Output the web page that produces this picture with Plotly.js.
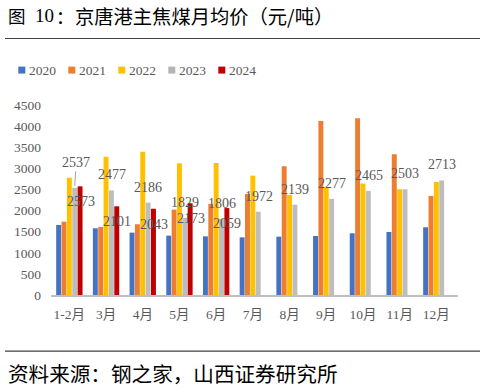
<!DOCTYPE html>
<html>
<head>
<meta charset="utf-8">
<script src="https://cdn.plot.ly/plotly-3.0.1.min.js"></script>
<style>html,body{margin:0;padding:0;background:#fff;}#chart{width:485px;height:392px;}</style>
</head>
<body>
<div id="chart"></div>
<script>
// ---- data ----
var categories = ['1-2月','3月','4月','5月','6月','7月','8月','9月','10月','11月','12月'];
var seriesNames = ['2020','2021','2022','2023','2024'];
var v2020 = [1659, 1580, 1477, 1406, 1389, 1365, 1382, 1398, 1462, 1493, 1604];
var v2021 = [1737, 1612, 1676, 2022, 2157, 2394, 3050, 4124, 4188, 3334, 2346];
var v2022 = [2778, 3275, 3394, 3119, 3128, 2828, 2370, 2543, 2638, 2505, 2678];
var v2023 = [2537, 2477, 2186, 1829, 1806, 1972, 2139, 2277, 2465, 2503, 2713];
var v2024 = [2573, 2101, 2043, 2173, 2059, null, null, null, null, null, null];
var yTicks = [0, 500, 1000, 1500, 2000, 2500, 3000, 3500, 4000, 4500];
var titleParts = ['图', '10', '：', '京唐港主焦煤月均价（元/吨）'];
var sourceText = '资料来源：钢之家，山西证券研究所';

// ---- style ----
var colors = ['#4472C4', '#ED7D31', '#FFC000', '#BDBDBD', '#C00000'];
var legendColors = ['#4472C4', '#ED7D31', '#FFC000', '#B4B4B4', '#C00000'];
var W = 485, H = 392;
var M = {l: 51, r: 27, t: 105, b: 96.5};
var PW = W - M.l - M.r, PH = H - M.t - M.b;
function px2x(px) { return (px - M.l) / PW; }
function py2y(py) { return (H - M.b - py) / PH; }
var serif = '"Liberation Serif", "Times New Roman", "Noto Sans CJK SC", serif';
var cjk = '"Noto Sans CJK SC", sans-serif';
var bargap = 0.27;
var slot = (1 - bargap) / 5;

var allVals = [v2020, v2021, v2022, v2023, v2024];
var traces = allVals.map(function (vals, i) {
  return {
    type: 'bar', name: seriesNames[i], x: categories, y: vals,
    marker: {color: colors[i]}, hoverinfo: 'x+y+name'
  };
});

// data labels for 2023 (above gray bar) and 2024 (below red bar top)
var annotations = [];
v2023.forEach(function (v, i) {
  if (i === 0) {
    annotations.push({
      x: i + slot * 1, y: v, xref: 'x', yref: 'y', text: String(v),
      showarrow: true, arrowhead: 0, arrowwidth: 0.8, arrowcolor: '#8c8c8c',
      ax: 1.5, ay: -23.5, yshift: 2, standoff: 0,
      font: {family: serif, size: 14, color: '#595959'}
    });
  } else {
    annotations.push({
      x: i + slot * 1, y: v, xref: 'x', yref: 'y', text: String(v),
      showarrow: false, xanchor: 'center', yanchor: 'middle', yshift: 15.5, xshift: 0.3,
      font: {family: serif, size: 14, color: '#595959'}
    });
  }
});
v2024.forEach(function (v, i) {
  if (v === null) return;
  annotations.push({
    x: i + slot * 2, y: v, xref: 'x', yref: 'y', text: String(v),
    showarrow: false, xanchor: 'center', yanchor: 'middle', yshift: -15.5, xshift: 0.5,
    font: {family: serif, size: 14, color: '#595959'}
  });
});

// custom legend
var shapes = [];
var legendX0 = 18.3, legendStep = 50, legendY = 70;
seriesNames.forEach(function (n, i) {
  var x0 = legendX0 + i * legendStep;
  shapes.push({
    type: 'rect', xref: 'paper', yref: 'paper',
    x0: px2x(x0), x1: px2x(x0 + 7), y0: py2y(legendY + 3.5), y1: py2y(legendY - 3.5),
    fillcolor: legendColors[i], line: {width: 0}
  });
  annotations.push({
    xref: 'paper', yref: 'paper', x: px2x(x0 + 8.5), y: py2y(legendY),
    xanchor: 'left', yanchor: 'middle', showarrow: false, text: n,
    font: {family: serif, size: 13.5, color: '#595959'}
  });
});

// header / footer rules
shapes.push({type: 'line', xref: 'paper', yref: 'paper', x0: px2x(5), x1: px2x(480),
  y0: py2y(38.3), y1: py2y(38.3), line: {color: '#404040', width: 1.2}});
shapes.push({type: 'line', xref: 'paper', yref: 'paper', x0: px2x(5), x1: px2x(480),
  y0: py2y(351.7), y1: py2y(351.7), line: {color: '#404040', width: 1.2}});

// title pieces
var titleSpec = [
  {px: 6, fam: cjk, size: 17.5},
  {px: 33, fam: serif, size: 19},
  {px: 54, fam: cjk, size: 18},
  {px: 73, fam: cjk, size: 19.3}
];
titleParts.forEach(function (t, i) {
  var s = titleSpec[i];
  annotations.push({
    xref: 'paper', yref: 'paper', x: px2x(s.px), y: py2y(15.5), xanchor: 'left', yanchor: 'middle',
    showarrow: false, text: t, font: {family: s.fam, size: s.size, color: '#000000'}
  });
});
annotations.push({
  xref: 'paper', yref: 'paper', x: px2x(5.5), y: py2y(373.5), xanchor: 'left', yanchor: 'middle',
  showarrow: false, text: sourceText,
  font: {family: cjk, size: 20.6, color: '#000000'}
});

var layout = {
  width: W, height: H,
  margin: M,
  paper_bgcolor: '#ffffff', plot_bgcolor: '#ffffff',
  showlegend: false,
  barmode: 'group', bargap: bargap, bargroupgap: 0.08,
  xaxis: {
    type: 'category', showgrid: false, zeroline: false,
    showline: true, linecolor: '#BFBFBF', linewidth: 2,
    ticks: '', ticklabelstandoff: 6,
    tickfont: {family: serif, size: 13.5, color: '#595959'}
  },
  yaxis: {
    range: [0, 4500], tickvals: yTicks, ticktext: yTicks.map(String),
    showgrid: false, zeroline: false, showline: false, ticks: '',
    ticklabelstandoff: 9,
    tickfont: {family: serif, size: 13.5, color: '#595959'}
  },
  shapes: shapes,
  annotations: annotations
};

Plotly.newPlot('chart', traces, layout, {displayModeBar: false, staticPlot: true});
</script>
</body>
</html>
